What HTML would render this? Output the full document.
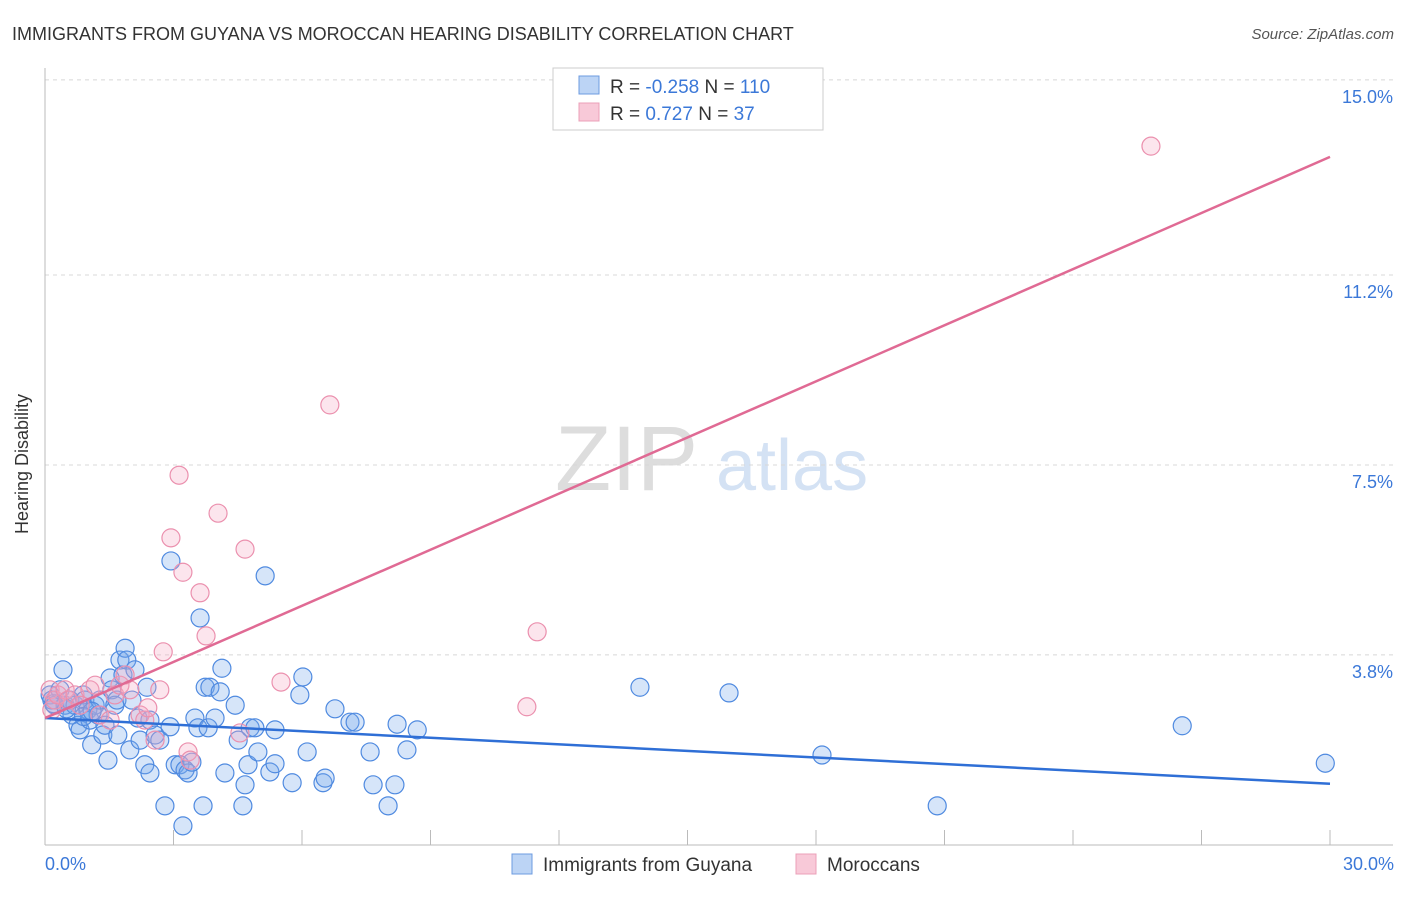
<!DOCTYPE html>
<html><head><meta charset="utf-8"><style>
body{margin:0;background:#fff;font-family:"Liberation Sans",sans-serif;}
svg text{font-family:"Liberation Sans",sans-serif;}
</style></head><body>
<svg id="chart" width="1406" height="892" viewBox="0 0 1406 892">
<text x="12" y="40" font-size="18" fill="#333">IMMIGRANTS FROM GUYANA VS MOROCCAN HEARING DISABILITY CORRELATION CHART</text>
<text x="1394" y="39" font-size="15" fill="#555" font-style="italic" text-anchor="end">Source: ZipAtlas.com</text>
<g><text x="555" y="490" font-size="92" fill="#ddd" font-family="Liberation Serif,serif">ZIP</text><text x="716" y="490" font-size="72" fill="#d4e2f4">atlas</text></g>
<g id="grid"></g>
<g id="axes"></g>
<g id="pts"></g>
<g id="lines"></g>
<text x="19" y="455" font-size="18" fill="#333" transform="rotate(-90 28 455)" text-anchor="middle">Hearing Disability</text>
<text x="45" y="870" font-size="18" fill="#3b78d8">0.0%</text>
<text x="1394" y="870" font-size="18" fill="#3b78d8" text-anchor="end">30.0%</text>
<g>
<rect x="553" y="68" width="270" height="62" fill="#fff" stroke="#ccc"/>
<rect x="579" y="76" width="20" height="18" fill="#bcd4f5" stroke="#6c9be0"/>
<rect x="579" y="103" width="20" height="18" fill="#f8c9d8" stroke="#eba0b8"/>
<text x="610" y="93" font-size="19" fill="#333">R = <tspan fill="#3b78d8">-0.258</tspan>   N = <tspan fill="#3b78d8">110</tspan></text>
<text x="610" y="120" font-size="19" fill="#333">R =   <tspan fill="#3b78d8">0.727</tspan>   N =  <tspan fill="#3b78d8"> 37</tspan></text>
</g>
<g>
<rect x="512" y="854" width="20" height="20" fill="#bcd4f5" stroke="#6c9be0"/>
<text x="543" y="871" font-size="19" fill="#333">Immigrants from Guyana</text>
<rect x="796" y="854" width="20" height="20" fill="#f8c9d8" stroke="#eba0b8"/>
<text x="827" y="871" font-size="19" fill="#333">Moroccans</text>
</g>
</svg>
<script>
const blueX=[0.12,0.16,0.23,0.35,0.42,0.47,0.58,0.63,0.70,0.77,0.82,0.89,0.93,1.00,1.05,1.09,1.17,1.24,1.28,1.35,1.40,1.47,1.52,1.56,1.63,1.68,1.70,1.75,1.82,1.87,1.91,1.98,2.03,2.10,2.17,2.22,2.33,2.38,2.45,2.45,2.57,2.68,2.80,2.92,2.94,3.04,3.15,3.22,3.27,3.34,3.43,3.50,3.57,3.62,3.69,3.74,3.81,3.85,3.97,4.09,4.13,4.20,4.44,4.51,4.62,4.67,4.74,4.79,4.90,4.97,5.14,5.25,5.37,5.37,5.77,5.95,6.02,6.12,6.49,6.54,6.77,7.12,7.24,7.59,7.66,8.01,8.17,8.22,8.45,8.69,13.89,15.97,18.14,20.83,26.55,29.89,0.2,0.5,0.9,1.1];
const blueY=[3.02,2.92,2.82,3.12,3.51,2.82,2.92,2.63,2.82,2.43,2.34,3.02,2.92,2.73,2.53,2.05,2.82,2.63,2.92,2.24,2.43,1.75,3.35,3.12,2.82,2.92,2.24,3.70,3.41,3.93,3.70,1.95,2.92,3.51,2.57,2.14,1.66,3.17,2.53,1.50,2.24,2.14,0.86,2.40,5.63,1.66,1.66,0.47,1.56,1.50,1.71,2.57,2.38,4.52,0.86,3.17,2.38,3.17,2.57,3.08,3.54,1.50,2.82,2.14,0.86,1.27,1.66,2.38,2.38,1.91,5.34,1.52,2.34,1.68,1.31,3.02,3.37,1.91,1.31,1.40,2.75,2.49,2.49,1.91,1.27,0.86,1.27,2.45,1.95,2.34,3.17,3.06,1.85,0.86,2.42,1.69,2.85,2.75,2.60,2.70];
const pinkX=[0.12,0.16,0.23,0.30,0.47,0.54,0.70,0.82,1.05,1.17,1.28,1.52,1.63,1.75,1.87,1.98,2.22,2.33,2.40,2.57,2.68,2.76,2.94,3.13,3.22,3.34,3.39,3.62,3.76,4.04,4.67,4.55,5.51,6.65,11.25,11.49,25.82];
const pinkY=[3.12,2.73,2.92,3.02,3.12,2.92,3.02,2.82,3.12,3.21,2.63,2.53,3.02,3.21,3.41,3.12,2.63,2.53,2.77,2.14,3.12,3.86,6.08,7.30,5.41,1.91,1.75,5.01,4.17,6.56,5.86,2.28,3.27,8.67,2.79,4.25,13.71];
const blueTrend=[2.57,1.29];
const pinkTrend=[2.57,13.50];
const yTicks=[15.0,11.2,7.5,3.8];
const yTickLabels=["15.0%","11.2%","7.5%","3.8%"];
const NS="http://www.w3.org/2000/svg";
const X0=45,X1=1330,Y0=850,PPY=51.34;
function sx(v){return X0+(X1-X0)*v/30;}
function sy(v){return Y0-v*PPY;}
function mk(tag,attrs,parent){const e=document.createElementNS(NS,tag);for(const k in attrs)e.setAttribute(k,attrs[k]);parent.appendChild(e);return e;}
const grid=document.getElementById('grid'),axes=document.getElementById('axes'),pts=document.getElementById('pts'),lines=document.getElementById('lines');
yTicks.forEach((t,i)=>{
 const l=mk('line',{x1:45,x2:1393,y1:sy(t),y2:sy(t),stroke:'#d8d8d8','stroke-dasharray':'4,4'},grid);
 
 
 const tx=mk('text',{x:1393,y:sy(t)+23,'font-size':18,fill:'#3b78d8','text-anchor':'end'},grid);
 tx.textContent=yTickLabels[i];
 
 
});
mk('line',{x1:45,x2:45,y1:68,y2:845,stroke:'#bbb'},axes);
mk('line',{x1:45,x2:1393,y1:845,y2:845,stroke:'#bbb'},axes);
for(let i=1;i<=10;i++){const t=mk('line',{x1:sx(i*3),x2:sx(i*3),y1:830,y2:845,stroke:'#bbb'},axes);
 
 }
function dots(xs,ys,fill,stroke,name){xs.forEach((x,i)=>{
 const c=mk('circle',{cx:sx(x),cy:sy(ys[i]),r:9,fill:fill,stroke:stroke,'stroke-width':1.2},pts);
 
 });}
dots(blueX,blueY,'rgba(120,170,235,0.3)','#4f8ae0','guyana-point');
dots(pinkX,pinkY,'rgba(245,170,195,0.3)','#eb90ae','moroccan-point');
const bl=mk('line',{x1:sx(0),y1:sy(blueTrend[0]),x2:sx(30),y2:sy(blueTrend[1]),stroke:'#2f6fd6','stroke-width':2.5},lines);


const pl=mk('line',{x1:sx(0),y1:sy(pinkTrend[0]),x2:sx(30),y2:sy(pinkTrend[1]),stroke:'#e06a94','stroke-width':2.5},lines);


</script>
</body></html>
